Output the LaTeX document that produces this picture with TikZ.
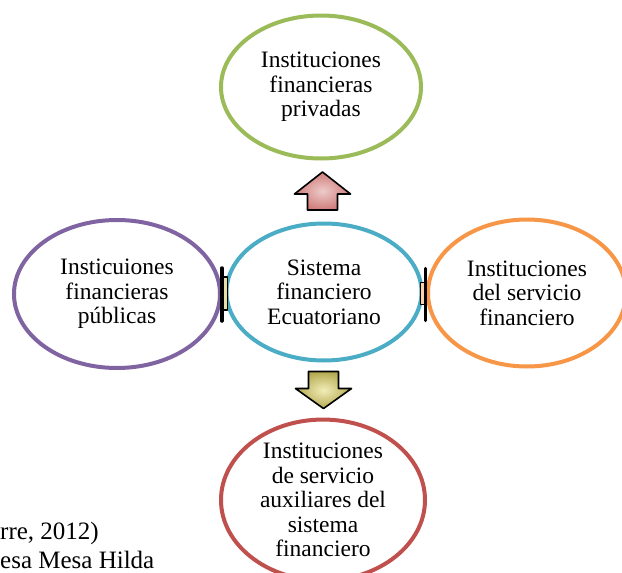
\documentclass[tikz,border=0pt]{standalone}
\usepackage{fontspec}
\setmainfont{Liberation Serif}
\usepackage{tikz}
\usetikzlibrary{shapes.geometric,calc}

\definecolor{verdeOf}{HTML}{9BBB59}
\definecolor{moradoOf}{HTML}{8064A2}
\definecolor{azulOf}{HTML}{4BACC6}
\definecolor{naranjaOf}{HTML}{F79646}
\definecolor{rojoOf}{HTML}{C0504D}
\definecolor{caquiOscuro}{HTML}{B3A94F}
\definecolor{caquiClaro}{HTML}{F2EDB8}

\begin{document}
\begin{tikzpicture}[x=1pt, y=-1pt,
		burbuja/.style={ellipse, draw, fill=white, line width=4pt, align=center, inner sep=0pt,
			font=\fontsize{23.5}{24.5}\selectfont},
		flecha/.style={draw=black, line width=1.6pt, line join=round},
		barra/.style={draw=black, line width=3.5pt, line cap=round},
		cita/.style={anchor=base west, inner sep=0pt, font=\fontsize{25}{26}\selectfont}]

		\useasboundingbox (0,0) rectangle (622,573);

		\node [burbuja, draw=verdeOf, minimum width=200pt, minimum height=143pt] (priv) at (321,87) {Instituciones\\financieras\\privadas};
		\node [burbuja, draw=azulOf, minimum width=195pt, minimum height=137pt] (sis) at (324,292) {Sistema\\financiero\\Ecuatoriano};
		\node [burbuja, draw=moradoOf, minimum width=206pt, minimum height=148pt] (pub) at (117,294) {Insticuiones\\financieras\\públicas};
		\node [burbuja, draw=naranjaOf, minimum width=198pt, minimum height=147pt] (serv) at (527,293) {Instituciones\\del servicio\\financiero};
		\node [burbuja, draw=rojoOf, minimum width=204pt, minimum height=148pt] (aux) at (323,500) {Instituciones\\de servicio\\auxiliares del\\sistema\\financiero};

		% flechas arriba y abajo
		\coordinate (m1) at ($(sis.north)!0.5!(priv.south)$);
		\coordinate (m2) at ($(sis.south)!0.5!(aux.north)$);
		\draw [flecha, inner color=rojoOf!30!white, outer color=rojoOf!75!white]
			(m1) ++(0,-19) -- ++(28,22) -- ++(-13,0) -- ++(0,16) -- ++(-30,0) -- ++(0,-16) -- ++(-13,0) -- cycle;
		\draw [flecha, inner color=caquiClaro, outer color=caquiOscuro]
			(m2) ++(-15,-18.5) -- ++(30,0) -- ++(0,17) -- ++(13,0) -- ++(-28,20) -- ++(-28,-20) -- ++(13,0) -- cycle;

		% conectores laterales
		\coordinate (m3) at ($(pub.east)!0.5!(sis.west)$);
		\coordinate (m4) at ($(sis.east)!0.5!(serv.west)$);
		\draw [flecha, line width=1.2pt, fill=olive!25!white] ($(m3)+(-1,-16)$) rectangle ($(m3)+(4,17)$);
		\draw [barra] ($(m3)+(-1.5,-25)$) -- ($(m3)+(-1.5,28)$);
		\draw [flecha, line width=1.2pt, fill=naranjaOf!45!white] ($(m4)+(-4,-10)$) rectangle ($(m4)+(1,12)$);
		\draw [barra] ($(m4)+(0.5,-24)$) -- ($(m4)+(0.5,28)$);

		% texto abajo a la izquierda
		\node [cita] (ref1) at (0,539) {rre, 2012)};
		\node [cita] (ref2) at (0,568) {esa Mesa Hilda};

\end{tikzpicture}
\end{document}
